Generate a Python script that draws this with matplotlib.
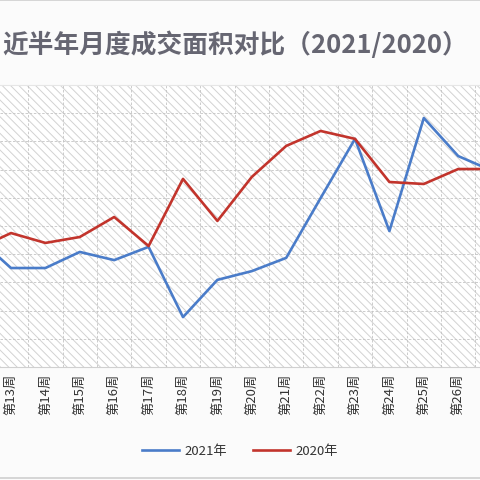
import matplotlib as mpl
mpl.use('Agg')
import matplotlib.pyplot as plt
from matplotlib.patches import Rectangle
from matplotlib.lines import Line2D

plt.rcParams['font.family'] = ['Noto Sans CJK SC', 'DejaVu Sans']
plt.rcParams['hatch.linewidth'] = 0.7

# 周次（画面左右两端的第12周、第27周被裁切）
weeks = ['第12周', '第13周', '第14周', '第15周', '第16周', '第17周', '第18周', '第19周',
         '第20周', '第21周', '第22周', '第23周', '第24周', '第25周', '第26周', '第27周']
area_2021 = [46.1, 35.1, 35.1, 40.8, 37.9, 42.6, 17.7, 30.9,
             34.0, 38.7, 59.9, 80.9, 48.2, 88.3, 74.8, 69.5]
area_2020 = [41.8, 47.5, 44.0, 46.1, 53.2, 42.9, 66.7, 51.8,
             67.4, 78.4, 83.7, 80.9, 65.6, 64.9, 70.2, 70.2]

x = list(range(-1, len(weeks) - 1))

fig = plt.figure(figsize=(4.8, 4.8), dpi=100, facecolor='#fbfbfb')
ax = fig.add_axes([0, 1 - 367 / 480, 1, 282 / 480])
ax.set_facecolor('white')

# 斜纹背景
ax.add_patch(Rectangle((0, 0), 1, 1, transform=ax.transAxes, facecolor='none',
                       edgecolor='#d2d2d2', hatch='\\\\\\\\', linewidth=0, zorder=0))

ax.plot(x, area_2021, color='#4a7cc9', lw=1.9, label='2021年', zorder=3)
ax.plot(x, area_2020, color='#c2342c', lw=1.9, label='2020年', zorder=3)

ax.set_yticks(range(0, 101, 10))
ax.set_xticks(x)
ax.set_xticklabels(weeks, rotation=90, fontsize=9.5, color='#333333')
ax.set_xticks([i + 0.5 for i in x], minor=True)
ax.set_ylim(0, 100)
ax.set_xlim(-11 / 34.4, -11 / 34.4 + 480 / 34.4)
ax.tick_params(axis='x', which='both', length=0, pad=5)
ax.tick_params(axis='y', left=False, labelleft=False)
ax.grid(axis='y', color='#c4c4c4', lw=0.6, ls=(0, (3, 2)))
ax.grid(axis='x', which='minor', color='#c4c4c4', lw=0.6, ls=(0, (3, 2)))
for s in ['left', 'right']:
    ax.spines[s].set_visible(False)
ax.spines['top'].set_color('#e6e6e6')
ax.spines['bottom'].set_color('#d0d0d0')
ax.set_axisbelow(True)

fig.text(0.49, 1 - 45 / 480, '近半年月度成交面积对比（2021/2020）', ha='center', va='center',
         fontsize=18.5, fontweight='bold', color='#666672')

fig.legend(loc='center', bbox_to_anchor=(0.5, 1 - 451 / 480), ncol=2, frameon=False,
           fontsize=9.5, handlelength=2.8, handletextpad=0.4, columnspacing=2.0,
           labelcolor='#333333')

fig.add_artist(Line2D([0, 1], [0.999, 0.999], color='#cfcfcf', lw=1.2))
fig.add_artist(Line2D([0, 1], [1 - 478 / 480] * 2, color='#cfcfcf', lw=1.2))

fig.savefig('out.png', dpi=100, facecolor=fig.get_facecolor())
